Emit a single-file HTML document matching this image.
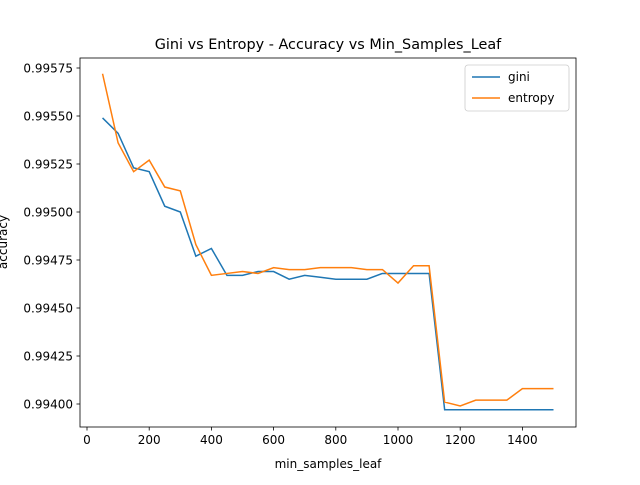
<!DOCTYPE html>
<html><head><meta charset="utf-8"><style>body{margin:0;background:#fff}svg{font-family:"DejaVu Sans","Liberation Sans",sans-serif}</style></head>
<body>
<svg id="c" width="640" height="480" xmlns="http://www.w3.org/2000/svg">
<rect width="640" height="480" fill="#fff"/>
<text x="328" y="49" font-size="14.4" text-anchor="middle">Gini vs Entropy - Accuracy vs Min_Samples_Leaf</text>
<text x="328" y="468" font-size="12" text-anchor="middle">min_samples_leaf</text>
<text x="0" y="0" font-size="12" text-anchor="middle" transform="translate(7,242) rotate(-90)">accuracy</text>
<g id="ax"></g>
<rect x="80" y="58" width="496" height="369" fill="none" stroke="#000" stroke-width="0.8"/>
<g>
<rect x="465" y="65" width="104" height="46" rx="3" fill="#fff" stroke="#ccc" stroke-width="0.8"/>
<line x1="472" y1="77" x2="500" y2="77" stroke="#1f77b4" stroke-width="1.5"/>
<text x="508" y="81" font-size="12">gini</text>
<line x1="472" y1="98" x2="500" y2="98" stroke="#ff7f0e" stroke-width="1.5"/>
<text x="508" y="102" font-size="12">entropy</text>
</g>
</svg>
<script>
const xs=[50,100,150,200,250,300,350,400,450,500,550,600,650,700,750,800,850,900,950,1000,1050,1100,1150,1200,1250,1300,1350,1400,1450,1500];
const gini=[0.99549,0.99541,0.99523,0.99521,0.99503,0.99500,0.99477,0.99481,0.99467,0.99467,0.99469,0.99469,0.99465,0.99467,0.99466,0.99465,0.99465,0.99465,0.99468,0.99468,0.99468,0.99468,0.99397,0.99397,0.99397,0.99397,0.99397,0.99397,0.99397,0.99397];
const entropy=[0.99572,0.99536,0.99521,0.99527,0.99513,0.99511,0.99483,0.99467,0.99468,0.99469,0.99468,0.99471,0.99470,0.99470,0.99471,0.99471,0.99471,0.99470,0.99470,0.99463,0.99472,0.99472,0.99401,0.99399,0.99402,0.99402,0.99402,0.99408,0.99408,0.99408];
const xTicks=[0,200,400,600,800,1000,1200,1400];
const yTicks=[0.99400,0.99425,0.99450,0.99475,0.99500,0.99525,0.99550,0.99575];
const X=v=>87+v*0.311;
const Y=v=>404-(v-0.994)/0.00025*48;
const ns="http://www.w3.org/2000/svg",g=document.getElementById('ax');
function mk(t,a){const e=document.createElementNS(ns,t);for(const k in a)e.setAttribute(k,a[k]);g.appendChild(e);return e;}
xTicks.forEach(v=>{const x=X(v);
const l=mk('line',{x1:x,x2:x,y1:427,y2:430.5,stroke:'#000','stroke-width':0.8});


const t=mk('text',{x:x,y:444,'font-size':12,'text-anchor':'middle'});t.textContent=v;

});
yTicks.forEach(v=>{const y=Y(v);
const l=mk('line',{x1:76.5,x2:80,y1:y,y2:y,stroke:'#000','stroke-width':0.8});


const t=mk('text',{x:73,y:y+4.5,'font-size':12,'text-anchor':'end'});t.textContent=v.toFixed(5);

});
[[gini,'#1f77b4','gini-line'],[entropy,'#ff7f0e','entropy-line']].forEach(([d,c,n])=>{
const p=mk('polyline',{points:xs.map((x,i)=>X(x)+','+Y(d[i])).join(' '),fill:'none',stroke:c,'stroke-width':1.5});

});
</script>
</body></html>
